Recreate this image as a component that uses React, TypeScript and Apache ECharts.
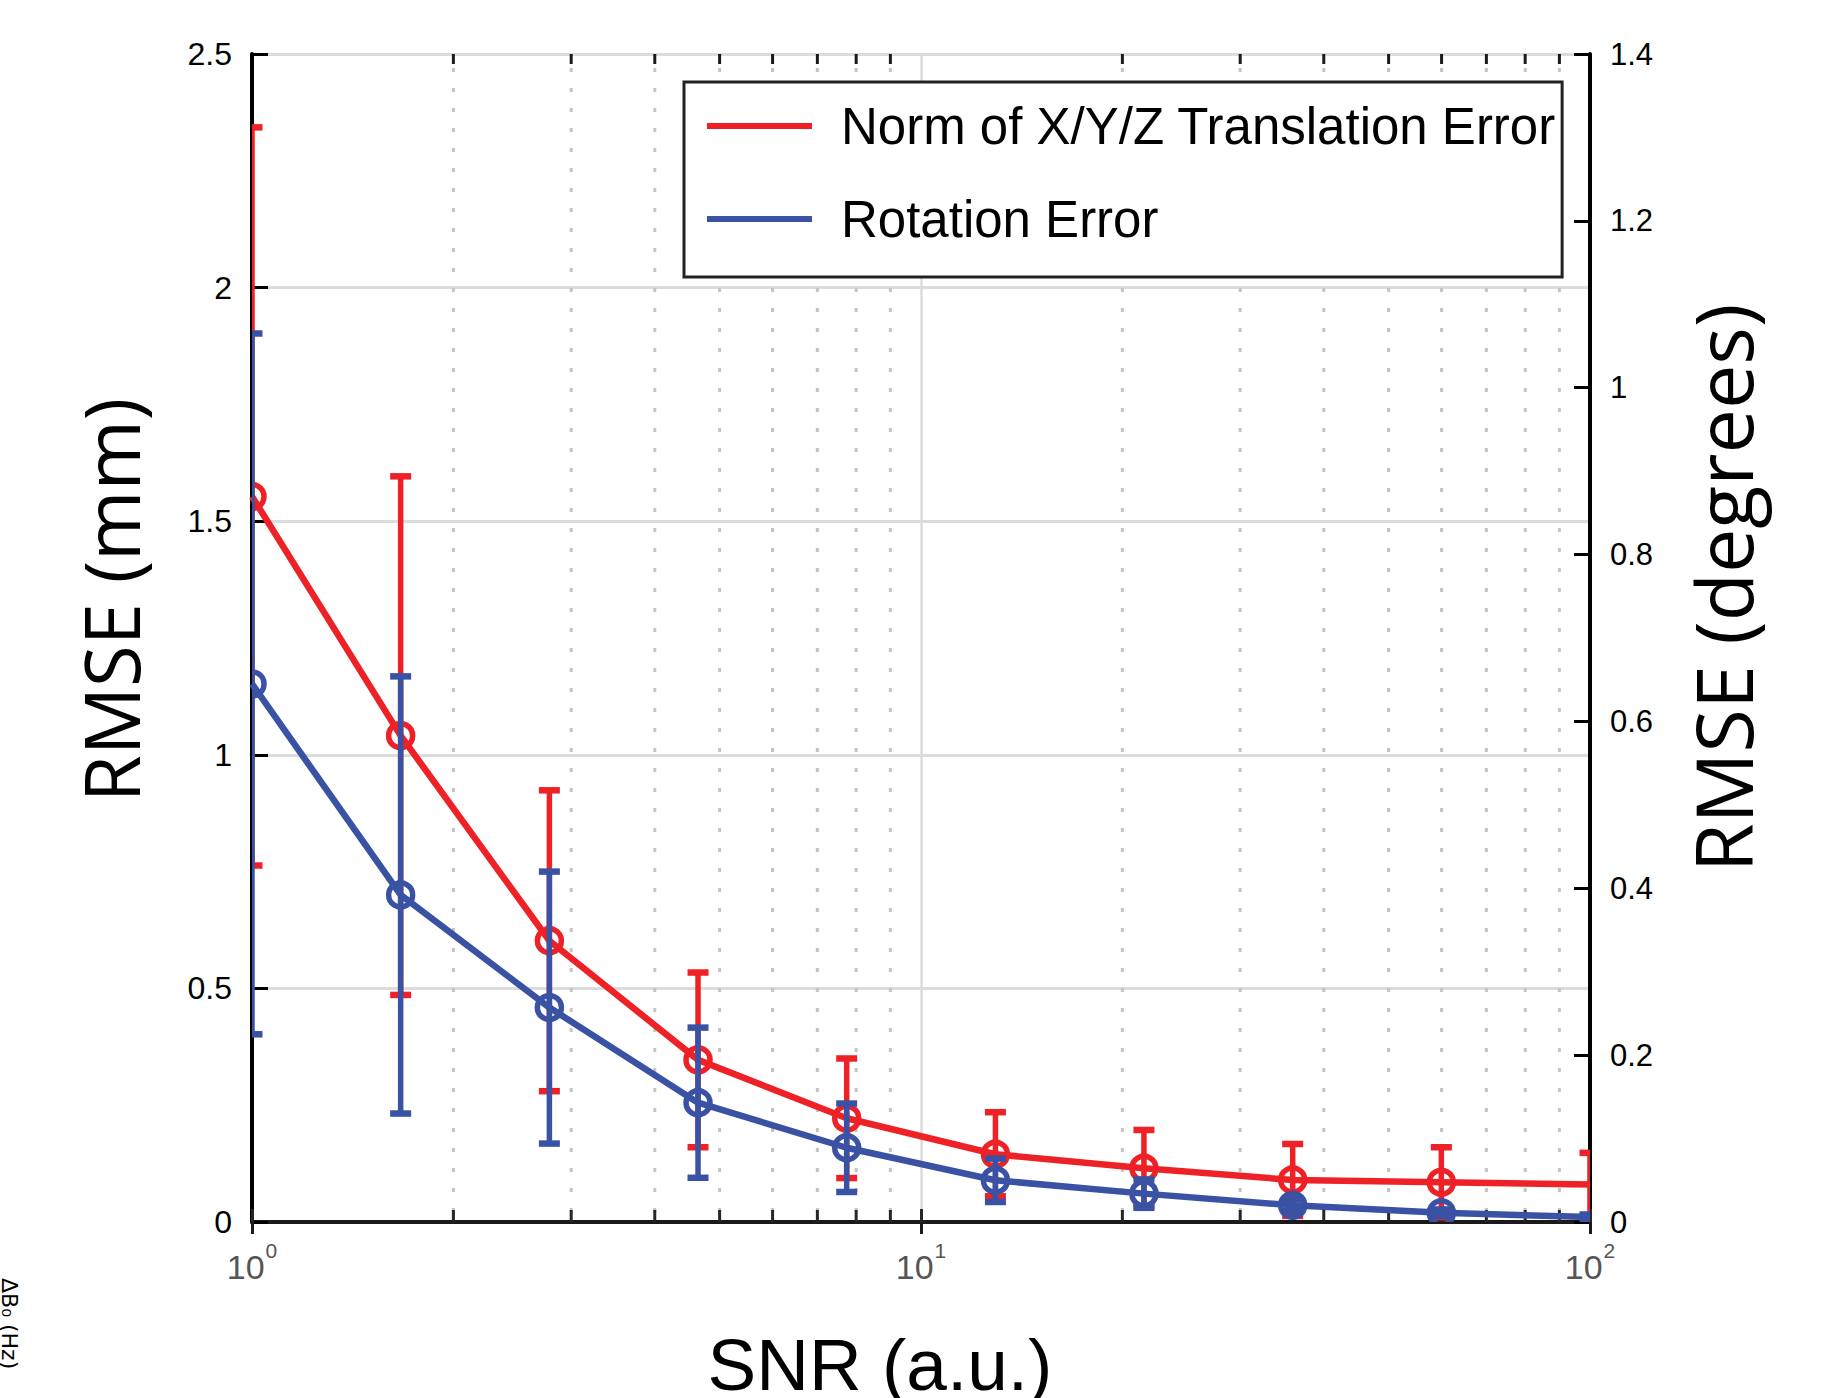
import React, { useEffect, useRef } from "react";
import * as echarts from "echarts";

// SNR values (x, log scale)
const snr = [1, 1.668, 2.783, 4.642, 7.743, 12.92, 21.54, 35.94, 59.95, 100];
// Translation error (mm, left axis)
const transMean = [1.553, 1.041, 0.602, 0.347, 0.222, 0.145, 0.115, 0.09, 0.085, 0.08];
const transErr = [0.79, 0.555, 0.322, 0.187, 0.128, 0.09, 0.082, 0.077, 0.075, 0.068];
// Rotation error (degrees, right axis)
const rotMean = [0.645, 0.392, 0.257, 0.143, 0.089, 0.05, 0.034, 0.02, 0.011, 0.006];
const rotErr = [0.42, 0.262, 0.163, 0.09, 0.053, 0.026, 0.017, 0.007, 0.004, 0.003];

const leftTicks = { min: 0, max: 2.5, interval: 0.5 };
const rightTicks = { min: 0, max: 1.4, interval: 0.2 };
const minorX = [2, 3, 4, 5, 6, 7, 8, 9, 20, 30, 40, 50, 60, 70, 80, 90];

const seriesNames = ["Norm of X/Y/Z Translation Error", "Rotation Error"];
const RED = "#ee2126";
const BLUE = "#3a52a3";

const FONT = "'Liberation Sans', Arial, sans-serif";

function errRender(color: string, lastIndex: number) {
  return (params: any, api: any) => {
    const x = api.value(0);
    const m = api.value(1);
    const e = api.value(2);
    const top = api.coord([x, m + e]);
    const bot = api.coord([x, m - e]);
    const c = api.coord([x, m]);
    const hw = 10.5;
    const children: any[] = [
      { type: "line", shape: { x1: top[0], y1: top[1], x2: bot[0], y2: bot[1] }, style: { stroke: color, lineWidth: 5.5 } },
      { type: "line", shape: { x1: top[0] - hw, y1: top[1], x2: top[0] + hw, y2: top[1] }, style: { stroke: color, lineWidth: 6.5 } },
      { type: "line", shape: { x1: bot[0] - hw, y1: bot[1], x2: bot[0] + hw, y2: bot[1] }, style: { stroke: color, lineWidth: 6.5 } },
    ];
    if (params.dataIndex < lastIndex) {
      children.push({ type: "circle", shape: { cx: c[0], cy: c[1], r: 12 }, style: { stroke: color, lineWidth: 5.5, fill: "none" } });
    }
    return { type: "group", children };
  };
}

export default function App() {
  const ref = useRef<HTMLDivElement>(null);
  useEffect(() => {
    if (!ref.current) return;
    const chart = echarts.init(ref.current, undefined, { renderer: "svg" });
    const last = snr.length - 1;
    const option: any = {
      animation: false,
      backgroundColor: "#ffffff",
      grid: { left: 252, top: 54, right: 240, bottom: 176 },
      xAxis: [
        {
          type: "log",
          logBase: 10,
          min: 1,
          max: 100,
          position: "bottom",
          axisLine: { lineStyle: { color: "#262626", width: 3 } },
          axisTick: { inside: true, length: 13, lineStyle: { color: "#262626", width: 3 } },
          splitLine: { show: true, lineStyle: { color: "#dcdcdc", width: 2.5 } },
          minorTick: { show: false },
          axisLabel: {
            margin: 18,
            formatter: (v: number) => `{b|10}{s|${Math.round(Math.log10(v))}}`,
            rich: {
              b: { fontSize: 34, fontFamily: FONT, color: "#555555", lineHeight: 44, verticalAlign: "bottom" },
              s: { fontSize: 21, fontFamily: FONT, color: "#555555", lineHeight: 44, verticalAlign: "top", padding: [0, 0, 0, 1] },
            },
          },
        },
        {
          type: "log",
          logBase: 10,
          min: 1,
          max: 100,
          position: "top",
          axisLine: { lineStyle: { color: "#1a1a1a", width: 4 } },
          axisTick: { inside: true, length: 12, lineStyle: { color: "#1a1a1a", width: 3 } },
          splitLine: { show: false },
          axisLabel: { show: false },
        },
      ],
      yAxis: [
        {
          type: "value",
          position: "left",
          ...leftTicks,
          axisLine: { show: true, lineStyle: { color: "#000000", width: 4 } },
          axisTick: { show: true, inside: true, length: 16, lineStyle: { color: "#000000", width: 3 } },
          splitLine: { show: true, lineStyle: { color: "#dcdcdc", width: 3 } },
          axisLabel: { margin: 20, fontSize: 32, fontFamily: FONT, color: "#000000", formatter: (v: number) => String(v) },
        },
        {
          type: "value",
          position: "right",
          ...rightTicks,
          axisLine: { show: true, lineStyle: { color: "#000000", width: 4 } },
          axisTick: { show: true, inside: true, length: 16, lineStyle: { color: "#000000", width: 3 } },
          splitLine: { show: false },
          axisLabel: { margin: 20, fontSize: 31, fontFamily: FONT, color: "#000000", formatter: (v: number) => String(Math.round(v * 10) / 10) },
        },
      ],
      legend: {
        orient: "vertical",
        left: 684,
        top: 82,
        padding: [16, 6, 30, 23],
        itemGap: 37,
        itemWidth: 105,
        itemHeight: 6,
        borderColor: "#222222",
        borderWidth: 3,
        backgroundColor: "#ffffff",
        textStyle: { fontSize: 51, fontFamily: FONT, color: "#000000", lineHeight: 56, padding: [0, 0, 0, 24] },
        data: [
          { name: seriesNames[0], icon: "rect", itemStyle: { color: RED } },
          { name: seriesNames[1], icon: "rect", itemStyle: { color: BLUE } },
        ],
      },
      graphic: [
        {
          type: "text",
          x: 110,
          y: 600,
          rotation: Math.PI / 2,
          style: { text: "RMSE (mm)", fontSize: 76, fontFamily: "'Open Sans', sans-serif", fill: "#000", align: "center", verticalAlign: "middle" },
        },
        {
          type: "text",
          x: 1722,
          y: 588,
          rotation: Math.PI / 2,
          style: { text: "RMSE (degrees)", fontSize: 79, fontFamily: "'Open Sans', sans-serif", fill: "#000", align: "center", verticalAlign: "middle" },
        },
        {
          type: "text",
          x: 880,
          y: 1328,
          style: { text: "SNR (a.u.)", fontSize: 73, fontFamily: FONT, fill: "#000", align: "center", verticalAlign: "top" },
        },
        {
          type: "text",
          x: 9,
          y: 1278,
          rotation: -Math.PI / 2,
          style: { text: "ΔB₀ (Hz)", fontSize: 22, fontFamily: "'DejaVu Sans', sans-serif", fill: "#000", align: "left", verticalAlign: "middle" },
        },
      ],
      series: [
        {
          type: "custom",
          name: "minor",
          xAxisIndex: 0,
          yAxisIndex: 0,
          silent: true,
          z: 1,
          data: minorX.map((v) => [v, 0]),
          renderItem: (params: any, api: any) => {
            const p = api.coord([api.value(0), 0]);
            const cs = params.coordSys;
            const top = cs.y;
            const bot = cs.y + cs.height;
            return {
              type: "group",
              children: [
                { type: "line", shape: { x1: p[0], y1: top + 14, x2: p[0], y2: bot - 4 }, style: { stroke: "#c4c4c4", lineWidth: 3, lineDash: [4, 16] } },
                { type: "line", shape: { x1: p[0], y1: bot, x2: p[0], y2: bot - 12 }, style: { stroke: "#262626", lineWidth: 3 } },
                { type: "line", shape: { x1: p[0], y1: top, x2: p[0], y2: top + 10 }, style: { stroke: "#1a1a1a", lineWidth: 3 } },
              ],
            };
          },
        },
        {
          type: "line",
          name: seriesNames[0],
          xAxisIndex: 0,
          yAxisIndex: 0,
          z: 3,
          showSymbol: false,
          symbol: "none",
          color: RED,
          lineStyle: { color: RED, width: 6.5 },
          data: snr.map((x, i) => [x, transMean[i]]),
        },
        {
          type: "custom",
          name: "transErr",
          xAxisIndex: 0,
          yAxisIndex: 0,
          z: 3,
          clip: true,
          data: snr.map((x, i) => [x, transMean[i], transErr[i]]),
          renderItem: errRender(RED, last),
        },
        {
          type: "line",
          name: seriesNames[1],
          xAxisIndex: 0,
          yAxisIndex: 1,
          z: 4,
          showSymbol: false,
          symbol: "none",
          color: BLUE,
          lineStyle: { color: BLUE, width: 6.5 },
          data: snr.map((x, i) => [x, rotMean[i]]),
        },
        {
          type: "custom",
          name: "rotErr",
          xAxisIndex: 0,
          yAxisIndex: 1,
          z: 4,
          clip: true,
          data: snr.map((x, i) => [x, rotMean[i], rotErr[i]]),
          renderItem: errRender(BLUE, last),
        },
      ],
    };
    chart.setOption(option);
    return () => chart.dispose();
  }, []);
  return <div ref={ref} style={{ position: "fixed", left: 0, top: 0, width: 1830, height: 1398 }} />;
}
